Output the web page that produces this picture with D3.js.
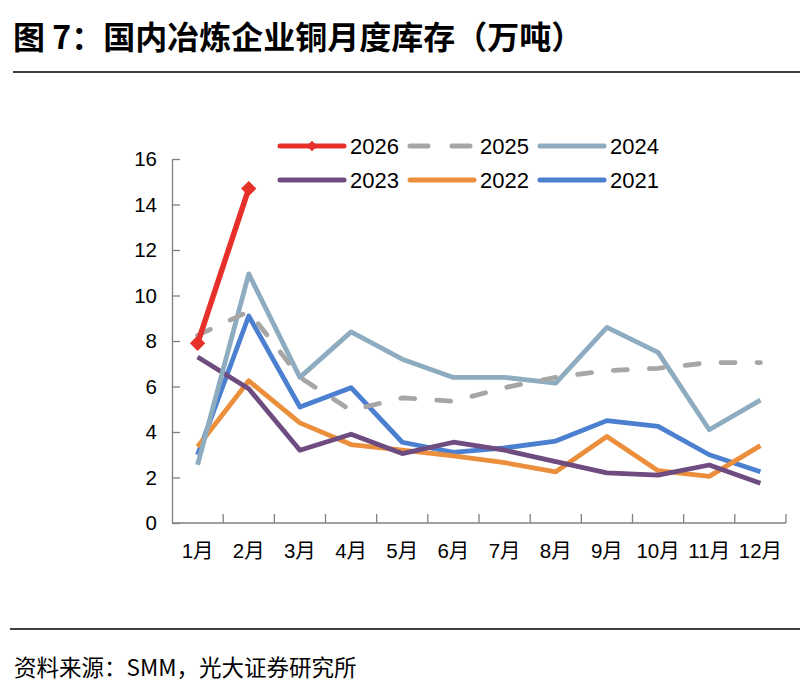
<!DOCTYPE html>
<html>
<head>
<meta charset="utf-8">
<script src="https://cdn.jsdelivr.net/npm/d3@7"></script>
<style>
  body { margin: 0; background: #fff; }
  svg { display: block; }
  .axis text { font-family: "Liberation Sans", Arial, "Noto Sans CJK SC", sans-serif; font-size: 20.5px; fill: #000; }
  .axis path, .axis line { stroke: #7f7f7f; stroke-width: 1.3; }
</style>
</head>
<body>
<div id="chart"></div>
<script>
// data
var months = ['1月', '2月', '3月', '4月', '5月', '6月', '7月', '8月', '9月', '10月', '11月', '12月'];
var yTicks = [0, 2, 4, 6, 8, 10, 12, 14, 16];

var s2026 = [7.9, 14.7];
var s2025 = [8.25, 9.3, 6.4, 4.95, 5.5, 5.35, 5.95, 6.4, 6.7, 6.8, 7.05, 7.05];
var s2024 = [2.55, 10.95, 6.4, 8.4, 7.2, 6.4, 6.4, 6.15, 8.6, 7.5, 4.1, 5.4];
var s2023 = [7.3, 5.9, 3.2, 3.9, 3.05, 3.55, 3.2, 2.7, 2.2, 2.1, 2.55, 1.75];
var s2022 = [3.35, 6.25, 4.4, 3.45, 3.2, 2.95, 2.65, 2.25, 3.8, 2.3, 2.05, 3.4];
var s2021 = [3.0, 9.1, 5.1, 5.95, 3.55, 3.1, 3.3, 3.6, 4.5, 4.25, 3.0, 2.25];

var series = [
    {name: '2021', values: s2021, color: '#4b7fd0', dash: null, marker: false},
    {name: '2022', values: s2022, color: '#eb8f3c', dash: null, marker: false},
    {name: '2023', values: s2023, color: '#6e4c80', dash: null, marker: false},
    {name: '2024', values: s2024, color: '#8eacc0', dash: null, marker: false},
    {name: '2025', values: s2025, color: '#a6a6a6', dash: '14,22', marker: false},
    {name: '2026', values: s2026, color: '#e8302a', dash: null, marker: true}
];

var legendOrder = ['2026', '2025', '2024', '2023', '2022', '2021'];

var width = 800, height = 695;
var plot = {left: 172, right: 786, top: 159, bottom: 523};

var svg = d3.select('#chart').append('svg')
    .attr('width', width)
    .attr('height', height);

// title and rules
svg.append('text')
    .attr('x', 13)
    .attr('y', 49)
    .style('font-family', '"Noto Sans CJK SC", sans-serif')
    .style('font-weight', 'bold')
    .style('font-size', '32px')
    .text('图 7：国内冶炼企业铜月度库存（万吨）');

svg.append('line')
    .attr('x1', 13).attr('x2', width)
    .attr('y1', 72).attr('y2', 72)
    .style('stroke', '#000').style('stroke-width', 1.5);

svg.append('line')
    .attr('x1', 10).attr('x2', width)
    .attr('y1', 629).attr('y2', 629)
    .style('stroke', '#000').style('stroke-width', 1.5);

svg.append('text')
    .attr('x', 14)
    .attr('y', 676)
    .style('font-family', '"Noto Sans CJK SC", sans-serif')
    .style('font-size', '22.5px')
    .text('资料来源：SMM，光大证券研究所');

// scales
var x = d3.scaleBand()
    .domain(months)
    .range([plot.left, plot.right])
    .padding(0);

var y = d3.scaleLinear()
    .domain([0, 16])
    .range([plot.bottom, plot.top]);

function cx(i) { return x(months[i]) + x.bandwidth() / 2; }

// y axis
var yAxis = d3.axisLeft(y)
    .tickValues(yTicks)
    .tickSizeInner(-8)
    .tickSizeOuter(0)
    .tickPadding(15);

svg.append('g')
    .classed('axis', true)
    .attr('transform', 'translate(' + plot.left + ',0)')
    .call(yAxis);

// x axis, labels centred in bands
var xAxis = d3.axisBottom(x)
    .tickSize(0)
    .tickPadding(20);

var xg = svg.append('g')
    .classed('axis', true)
    .attr('transform', 'translate(0,' + plot.bottom + ')')
    .call(xAxis);

xg.select('.domain').attr('d', 'M' + plot.left + ',0H' + plot.right);

// ticks on the band boundaries
xg.selectAll('.band-tick')
    .data(months)
    .enter()
    .append('line')
    .classed('band-tick', true)
    .attr('x1', function(d){ return x(d) + x.bandwidth(); })
    .attr('x2', function(d){ return x(d) + x.bandwidth(); })
    .attr('y1', 0)
    .attr('y2', -9);

// lines
var line = d3.line()
    .x(function(d, i){ return cx(i); })
    .y(function(d){ return y(d); });

var lineGroup = svg.append('g');

lineGroup.selectAll('.series')
    .data(series)
    .enter()
    .append('path')
    .classed('series', true)
    .attr('d', function(d){ return line(d.values); })
    .style('fill', 'none')
    .style('stroke', function(d){ return d.color; })
    .style('stroke-width', function(d){ return d.marker ? 5.5 : 4.8; })
    .style('stroke-linejoin', 'round')
    .style('stroke-linecap', function(d){ return d.dash ? 'round' : 'butt'; })
    .style('stroke-dasharray', function(d){ return d.dash; });

var diamond = d3.symbol().type(d3.symbolDiamond2).size(150);

series.filter(function(d){ return d.marker; }).forEach(function(s){
    lineGroup.selectAll('.marker-' + s.name)
        .data(s.values)
        .enter()
        .append('path')
        .attr('transform', function(d, i){ return 'translate(' + cx(i) + ',' + y(d) + ')'; })
        .attr('d', diamond)
        .style('fill', s.color);
});

// legend
var legendPos = {x: 278, y: 146, colStep: 130, rowStep: 34, lineLen: 66};

var legend = svg.append('g');

var legendItems = legend.selectAll('.legend-item')
    .data(legendOrder.map(function(n){
        return series.filter(function(s){ return s.name === n; })[0];
    }))
    .enter()
    .append('g')
    .classed('legend-item', true)
    .attr('transform', function(d, i){
        return 'translate(' + (legendPos.x + (i % 3) * legendPos.colStep) + ',' + (legendPos.y + Math.floor(i / 3) * legendPos.rowStep) + ')';
    });

legendItems.append('line')
    .attr('x1', 2).attr('x2', legendPos.lineLen)
    .attr('y1', 0).attr('y2', 0)
    .style('stroke', function(d){ return d.color; })
    .style('stroke-width', 5)
    .style('stroke-linecap', 'round')
    .style('stroke-dasharray', function(d){ return d.dash ? '18,24' : null; });

legendItems.filter(function(d){ return d.marker; })
    .append('path')
    .attr('transform', 'translate(' + (legendPos.lineLen / 2 + 1) + ',0)')
    .attr('d', d3.symbol().type(d3.symbolDiamond2).size(70))
    .style('fill', function(d){ return d.color; });

legendItems.append('text')
    .attr('x', legendPos.lineLen + 6)
    .attr('y', 0)
    .attr('dominant-baseline', 'central')
    .style('font-family', '"Liberation Sans", Arial, sans-serif')
    .style('font-size', '22px')
    .text(function(d){ return d.name; });
</script>
</body>
</html>
